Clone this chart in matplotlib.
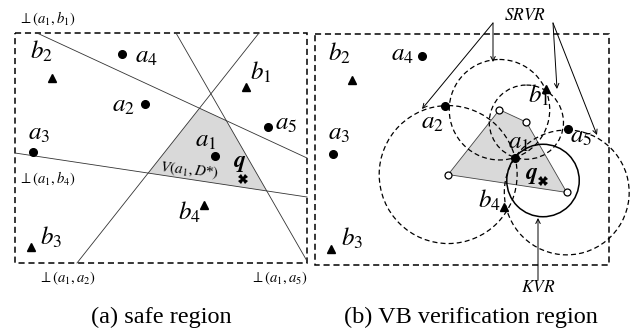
import numpy as np
import matplotlib
matplotlib.use("Agg")
import matplotlib.pyplot as plt
from matplotlib.patches import Polygon, Circle, Rectangle

plt.rcParams['mathtext.fontset'] = 'stix'
plt.rcParams['font.family'] = ['Liberation Serif', 'DejaVu Serif']

# point sets (pixel coords of the left panel, y down)
a_names = ['a_1', 'a_2', 'a_3', 'a_4', 'a_5']
a_pts = np.array([(215, 156), (145, 104), (33, 152), (122, 54), (268, 127)], float)
b_names = ['b_1', 'b_2', 'b_3', 'b_4']
b_pts = np.array([(246, 87), (52, 78), (31, 247), (204, 205)], float)
q_pt = np.array([243, 179], float)

# perpendicular bisectors of a1 and its Voronoi neighbours (end points on the box)
bis_names = ['b_1', 'b_4', 'a_2', 'a_5']
bis_start = np.array([(37, 33), (15, 153), (77, 263), (176, 33)], float)
bis_end = np.array([(307, 158), (307, 197), (259, 33), (307, 261)], float)
# order of bisectors around the cell
cell_order = ['a_2', 'b_1', 'a_5', 'b_4']

right_shift = np.array([300, 1.5])
boxes = [(15, 33, 307, 263), (315, 34, 609, 265)]

# label offsets (left edge, baseline) relative to each point
off_left = {'a_1': (-20, -9), 'a_2': (-33, 8), 'a_3': (-5, -12), 'a_4': (13, 9), 'a_5': (7, 3),
            'b_1': (4, -7), 'b_2': (-22, -19), 'b_3': (9, -2), 'b_4': (-26, 15), 'q': (-10, -12)}
off_right = {'a_1': (-7, -9), 'a_2': (-24, 23), 'a_3': (-5, -14), 'a_4': (-31, 5), 'a_5': (2, 14),
             'b_1': (-18, 14), 'b_2': (-24, -19), 'b_3': (10, -3), 'b_4': (-26, 1), 'q': (-18, -2)}


def intersect(p1, p2, p3, p4):
    d1 = p2 - p1
    d2 = p4 - p3
    A = np.array([d1, -d2]).T
    t = np.linalg.solve(A, p3 - p1)
    return p1 + t[0] * d1


fig = plt.figure(figsize=(6.31, 3.33), dpi=100)
ax = fig.add_axes([0, 0, 1, 1])
ax.set_xlim(0, 631)
ax.set_ylim(333, 0)
ax.axis('off')

bis = {n: (s, e) for n, s, e in zip(bis_names, bis_start, bis_end)}
verts = []
for i in range(4):
    l1 = bis[cell_order[i]]
    l2 = bis[cell_order[(i + 1) % 4]]
    verts.append(intersect(l1[0], l1[1], l2[0], l2[1]))
verts = np.array(verts)
pts = dict(zip(a_names, a_pts))
pts.update(dict(zip(b_names, b_pts)))

for k, (x0, y0, x1, y1) in enumerate(boxes):
    ax.add_patch(Rectangle((x0, y0), x1 - x0, y1 - y0, fill=False, ec='black',
                           lw=1.1, ls=(0, (4, 2.5)), zorder=1))


def draw_points(shift, offs):
    ax.plot(a_pts[:, 0] + shift[0], a_pts[:, 1] + shift[1], 'o', color='black', ms=5.5, zorder=6)
    ax.plot(b_pts[:, 0] + shift[0], b_pts[:, 1] + shift[1], '^', color='black', ms=5.3, zorder=6)
    ax.plot(q_pt[0] + shift[0], q_pt[1] + shift[1], 'X', color='black', ms=7, mew=0, zorder=6)
    for n in a_names + b_names:
        p = pts[n] + shift
        dx, dy = offs[n]
        ax.text(p[0] + dx, p[1] + dy, '$%s$' % n, fontsize=18, ha='left', va='baseline', zorder=7)
    dx, dy = offs['q']
    ax.text(q_pt[0] + shift[0] + dx, q_pt[1] + shift[1] + dy, r'$\boldsymbol{q}$', fontsize=17,
            ha='left', va='baseline', zorder=7)


# ---- (a) safe region
ax.add_patch(Polygon(verts, closed=True, fc='#d9d9d9', ec='none', zorder=2))
for n in bis_names:
    s, e = bis[n]
    ax.plot([s[0], e[0]], [s[1], e[1]], color='#333333', lw=0.6, zorder=3)
draw_points((0, 0), off_left)

lab_kw = dict(fontsize=10.5, ha='left', va='baseline')
ax.text(18, 23, r'$\perp(a_1,b_1)$', **lab_kw)
ax.text(18, 183, r'$\perp(a_1,b_4)$', **lab_kw)
ax.text(38, 282, r'$\perp(a_1,a_2)$', **lab_kw)
ax.text(250, 282, r'$\perp(a_1,a_5)$', **lab_kw)
ax.text(189, 170, r'$V(a_1,D$*$)$', fontsize=11, ha='center', va='center', rotation=-6, zorder=7)

# ---- (b) VB verification region
rv = verts + right_shift
ax.add_patch(Polygon(rv, closed=True, fc='#d9d9d9', ec='#444444', lw=0.6, zorder=2))
a1r = a_pts[0] + right_shift
for v in rv:
    r = np.hypot(*(v - a1r))
    ax.add_patch(Circle(v, r, fill=False, ec='black', lw=0.9, ls=(0, (4, 2.5)), zorder=4))
qr = q_pt + right_shift
ax.add_patch(Circle(qr, np.hypot(*(qr - a1r)), fill=False, ec='black', lw=1.1, zorder=4))
ax.plot(rv[:, 0], rv[:, 1], 'o', mfc='white', mec='black', ms=5, mew=0.9, zorder=6)
draw_points(right_shift, off_right)

arr = dict(arrowstyle='->', lw=0.7, color='black', shrinkA=0, shrinkB=0, mutation_scale=8)
ax.text(525, 20, '$SRVR$', fontsize=12.5, ha='center', va='baseline')
for tgt in [(422, 109), (493, 62)]:
    ax.annotate('', xy=tgt, xytext=(493, 23), arrowprops=arr)
for tgt in [(557, 89), (597, 135)]:
    ax.annotate('', xy=tgt, xytext=(553, 23), arrowprops=arr)
ax.text(538, 292, '$KVR$', fontsize=12.5, ha='center', va='baseline')
ax.annotate('', xy=(538, 218), xytext=(538, 280), arrowprops=arr)

ax.text(161, 323, '(a) safe region', fontsize=17.5, ha='center', va='baseline')
ax.text(471, 323, '(b) VB verification region', fontsize=17.5, ha='center', va='baseline')

fig.savefig('out.png', dpi=100)
